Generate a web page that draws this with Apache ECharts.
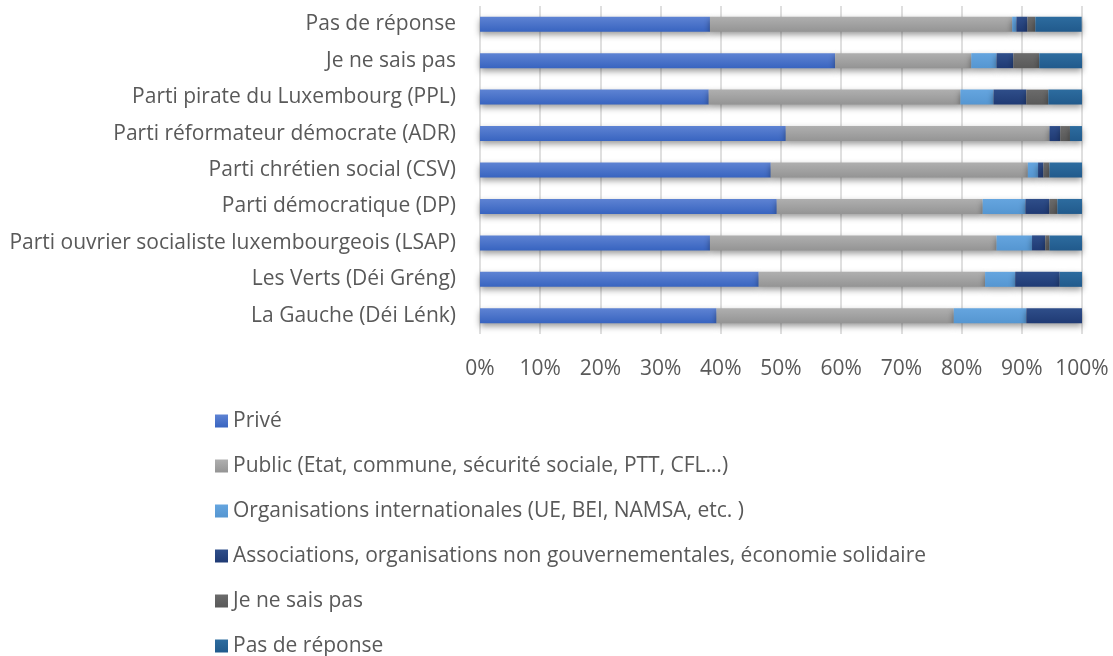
<!DOCTYPE html>
<html lang="fr">
<head>
    <meta charset="UTF-8">
    <title>Secteur d'activité par parti</title>
    <script src="https://cdn.jsdelivr.net/npm/echarts@6/dist/echarts.min.js"></script>
    <style>
        html, body { margin: 0; padding: 0; background: #fff; }
    </style>
</head>
<body>
    <div id="main" style="width: 1113px; height: 656px;"></div>
    <script>
        // top to bottom, as displayed
        var categories = [
            'Pas de réponse',
            'Je ne sais pas',
            'Parti pirate du Luxembourg (PPL)',
            'Parti réformateur démocrate (ADR)',
            'Parti chrétien social (CSV)',
            'Parti démocratique (DP)',
            'Parti ouvrier socialiste luxembourgeois (LSAP)',
            'Les Verts (Déi Gréng)',
            'La Gauche (Déi Lénk)'
        ];
        var prive      = [38.2, 59.0, 38.0, 50.8, 48.3, 49.3, 38.2, 46.3, 39.3];
        var publicSect = [50.2, 22.6, 41.8, 43.8, 42.7, 34.2, 47.6, 37.6, 39.4];
        var orgInt     = [0.7, 4.2, 5.5, 0, 1.7, 7.1, 5.9, 5.0, 12.05];
        var assoc      = [1.85, 2.8, 5.45, 1.8, 0.9, 4.0, 2.2, 7.4, 9.25];
        var jnsp       = [1.3, 4.3, 3.65, 1.6, 1.0, 1.3, 0.7, 0, 0];
        var pdr        = [7.7, 7.1, 5.6, 2.0, 5.4, 4.1, 5.4, 3.7, 0];

        var seriesNames = [
            'Privé',
            'Public (Etat, commune, sécurité sociale, PTT, CFL…)',
            'Organisations internationales (UE, BEI, NAMSA, etc. )',
            'Associations, organisations non gouvernementales, économie solidaire',
            'Je ne sais pas',
            'Pas de réponse'
        ];
        var seriesData = [prive, publicSect, orgInt, assoc, jnsp, pdr];
        var topColors = ['#5e83d3', '#afafaf', '#65a5df', '#2f4e8a', '#6b6b6b', '#2d6c9f'];
        var bottomColors = ['#3864c0', '#949494', '#5596d1', '#1f3a74', '#595959', '#215a8c'];

        var fontFamily = '"Open Sans", sans-serif';

        var series = seriesNames.map(function (name, i) {
            return {
                name: name,
                type: 'bar',
                stack: 'total',
                barWidth: 15,
                data: seriesData[i],
                itemStyle: {
                    color: new echarts.graphic.LinearGradient(0, 0, 0, 1, [
                        {offset: 0, color: topColors[i]},
                        {offset: 1, color: bottomColors[i]}
                    ]),
                    shadowColor: 'rgba(0, 0, 0, 0.4)',
                    shadowBlur: 6,
                    shadowOffsetY: 3
                },
                emphasis: {disabled: true}
            };
        });

        var myChart = echarts.init(document.getElementById('main'));
        var option = {
            backgroundColor: '#fff',
            animation: false,
            textStyle: {fontFamily: fontFamily},
            grid: {
                left: 480,
                right: 31,
                top: 6,
                height: 328
            },
            xAxis: {
                type: 'value',
                min: 0,
                max: 100,
                interval: 10,
                axisLine: {show: false},
                axisTick: {show: false},
                axisLabel: {
                    formatter: '{value}%',
                    color: '#595959',
                    fontSize: 21,
                    margin: 25,
                    fontFamily: fontFamily
                },
                splitLine: {lineStyle: {color: '#d4d4d4', width: 1.5}}
            },
            yAxis: {
                type: 'category',
                inverse: true,
                data: categories,
                axisLine: {show: false},
                axisTick: {show: false},
                axisLabel: {
                    color: '#595959',
                    fontSize: 21,
                    margin: 24,
                    fontFamily: fontFamily
                }
            },
            legend: {
                orient: 'vertical',
                left: 210,
                top: 405,
                height: 250,
                itemWidth: 13,
                itemHeight: 13,
                itemGap: 23,
                icon: 'rect',
                textStyle: {
                    color: '#595959',
                    fontSize: 21,
                    lineHeight: 22,
                    fontFamily: fontFamily
                },
                data: seriesNames
            },
            series: series
        };
        myChart.setOption(option);
    </script>
</body>
</html>
